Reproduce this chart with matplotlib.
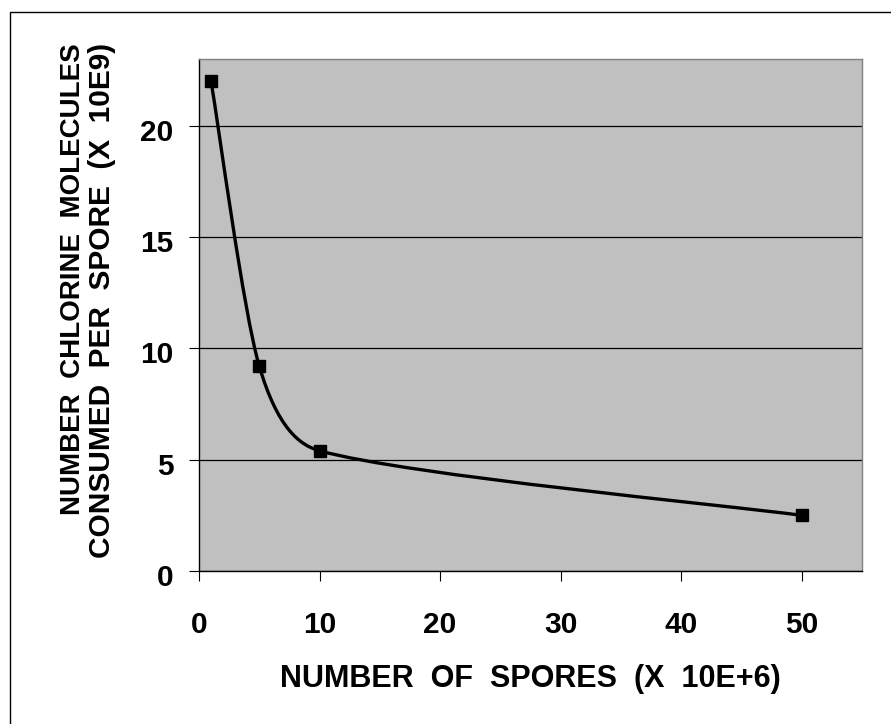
import numpy as np
import matplotlib.pyplot as plt
import matplotlib.transforms as mtransforms
from matplotlib.path import Path
from matplotlib.patches import PathPatch, Rectangle

plt.rcParams['font.family'] = ['Liberation Sans', 'DejaVu Sans']
plt.rcParams['font.weight'] = 'bold'

# data
spores = [1, 5, 10, 50]
chlorine = [22.0, 9.2, 5.4, 2.5]
x_ticks = [0, 10, 20, 30, 40, 50]
y_ticks = [0, 5, 10, 15, 20]
x_label = 'NUMBER  OF  SPORES  (X  10E+6)'
y_label_1 = 'NUMBER  CHLORINE  MOLECULES'
y_label_2 = 'CONSUMED  PER  SPORE  (X  10E9)'

fig = plt.figure(figsize=(8.91, 7.24), dpi=100)
ax = fig.add_axes([199 / 891, 1 - 571 / 724, 663 / 891, 512 / 724])
ax.set_facecolor('#C0C0C0')
ax.set_xlim(0, 55)
ax.set_ylim(0, 23)

ax.set_xticks(x_ticks)
ax.set_yticks(y_ticks)
ax.tick_params(axis='both', direction='out', length=7.5, width=0.8, labelsize=21.5, color='black')
ax.tick_params(axis='x', pad=21)
ax.tick_params(axis='y', pad=11)
shift = mtransforms.ScaledTranslation(0, -4 / 100, fig.dpi_scale_trans)
for lab in ax.get_yticklabels():
    lab.set_transform(lab.get_transform() + shift)
for lab in ax.get_xticklabels() + ax.get_yticklabels():
    lab.set_fontweight('bold')

ax.yaxis.grid(True, color='black', linewidth=0.9)
ax.set_axisbelow(True)

ax.spines['left'].set_color('black')
ax.spines['bottom'].set_color('black')
ax.spines['top'].set_color('#808080')
ax.spines['right'].set_color('#808080')
for s in ax.spines.values():
    s.set_linewidth(1.0)

# smoothed line like the spreadsheet (cubic bezier in pixel space,
# handles shortened so the curve never runs back in x)
fig.canvas.draw()
pts = ax.transData.transform(np.column_stack([spores, chlorine]))
n = len(pts)


def handle(d, span):
    if abs(d[0]) > span / 3:
        d = d * (span / 3) / abs(d[0])
    return d


verts = [pts[0]]
codes = [Path.MOVETO]
for i in range(n - 1):
    p_prev = pts[i - 1] if i > 0 else pts[i]
    p_next2 = pts[i + 2] if i + 2 < n else pts[i + 1]
    span = pts[i + 1][0] - pts[i][0]
    c1 = pts[i] + handle((pts[i + 1] - p_prev) / 6, span)
    c2 = pts[i + 1] - handle((p_next2 - pts[i]) / 6, span)
    verts += [c1, c2, pts[i + 1]]
    codes += [Path.CURVE4] * 3
verts = ax.transData.inverted().transform(np.array(verts))
ax.add_patch(PathPatch(Path(verts, codes), facecolor='none', edgecolor='black', lw=2.4, zorder=3))
ax.plot(spores, chlorine, linestyle='none', marker='s', markersize=8.5, color='black', zorder=4)

fig.text(0.5954, 1 - 679 / 724, x_label, ha='center', va='center', fontsize=22, fontweight='bold')
fig.text(73 / 891, 1 - 43 / 724, y_label_1, ha='right', va='center', rotation=90,
         rotation_mode='anchor', fontsize=20, fontweight='bold')
fig.text(102 / 891, 1 - 43 / 724, y_label_2, ha='right', va='center', rotation=90,
         rotation_mode='anchor', fontsize=21.5, fontweight='bold')

# outer chart border (right and bottom edges fall outside the picture)
fig.patches.append(Rectangle((10 / 891, -0.1), 1.2, 1.1 - 12 / 724, transform=fig.transFigure,
                             fill=False, edgecolor='black', linewidth=1.0, figure=fig))

fig.savefig('out.png', dpi=100, facecolor='white')
